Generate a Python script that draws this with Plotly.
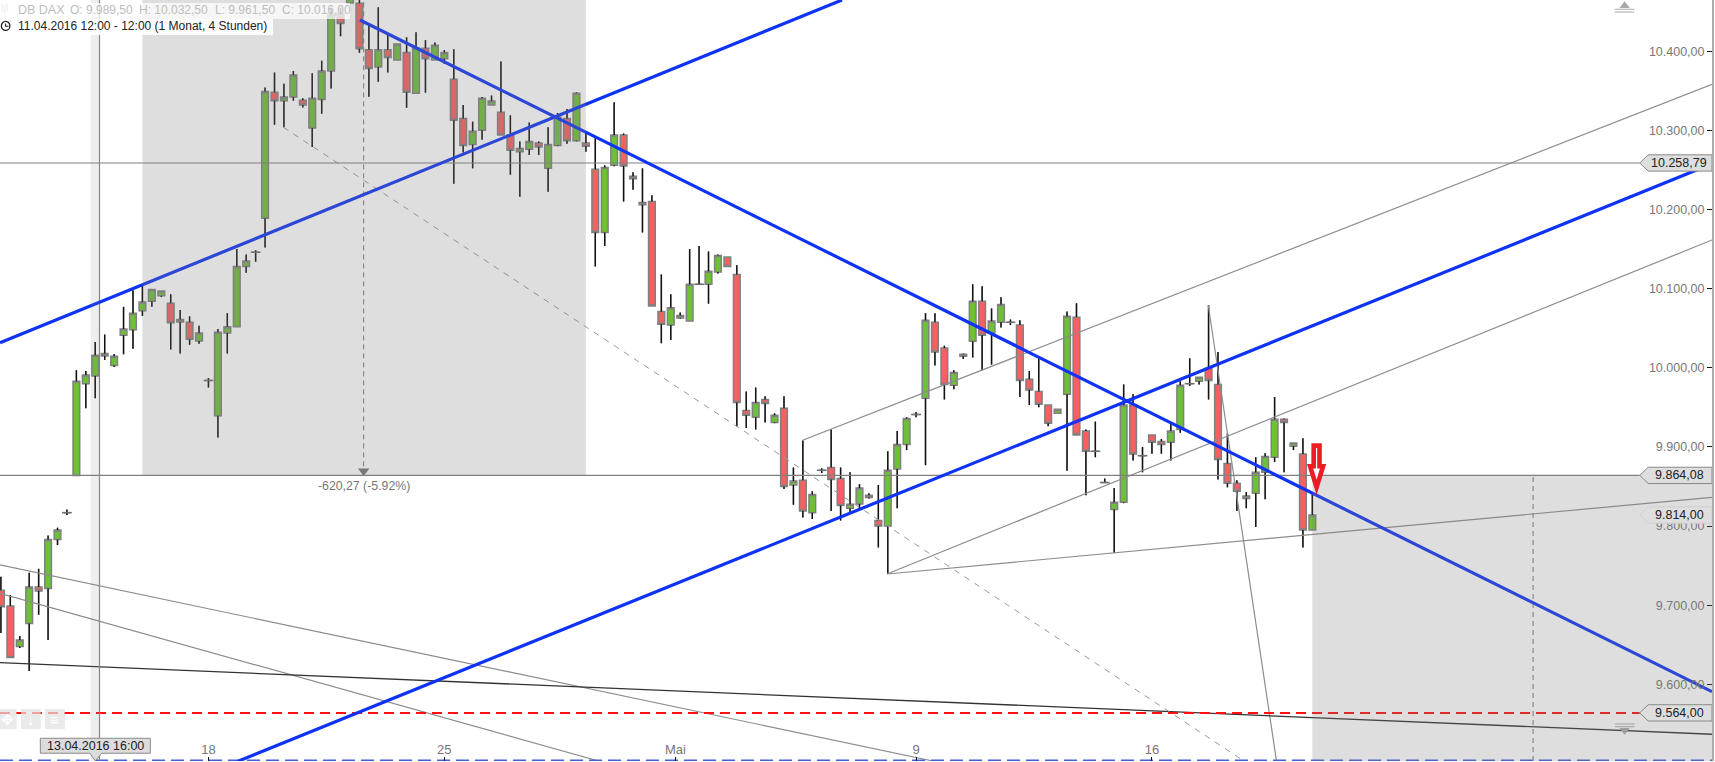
import plotly.graph_objects as go

# ---- OHLC values (DB DAX, 4-hour candles) ----
opens = [9719,9699,9648,9677,9723,9721,9783,9817,9864,9980,9989.5,10015,10003,10041,10048,10072,10084,10091,10081.5,10058,
10057.5,10034,9984,9939.5,10044,10052,10128,10146,10189,10348,10337.5,10342,10338,10303,10339,10375,10447,10461,10460.5,10402,
10380,10402,10389,10398.5,10347,10403.7,10389,10390.5,10364.5,10315,10282,10300,10332,10323,10294,10273,10276,10284,10252,10281,
10315,10287,10284,10251,10171,10256,10294,10242,10206,10210,10071,10054,10063,10059,10105.5,10105.5,10121,10140,10118,9946,
9937.5,9960,9931,9949,9852,9858,9817,9870.5,9874,9860,9822.5,9828,9836,9807,9800,9872,9903,9941,9961.5,10057.5,
10025,9978,10014.5,10033.5,10084,10044,10057.5,10057.5,10054,9985.5,9970,9953,9942.5,9966.5,10064,9920,9894.5,9855,9821,9830,
9953,9889,9915,9907,9906,9922,9980,9983,9999,9979,9879,9854,9835,9841.5,9868,9887,9935,9901,9891,9795]
highs = [9736,9713,9661,9741,9746,9788,9798,9821,9997,9996,10032.5,10042,10017.5,10077,10098,10105.5,10099,10097,10093,10073,
10065,10053,9987,10049,10069,10150,10143,10148.5,10354,10373,10359,10375,10340.5,10372,10388,10455,10455,10478,10470,10433,
10455.5,10422,10409,10417.5,10424,10414,10411,10401.5,10402.4,10332,10311,10342,10344,10387,10319,10286,10310,10286,10304,10322,
10327,10348,10297,10290,10256,10335.5,10296,10247,10252,10218,10118,10093,10070,10150,10154,10147,10143,10140,10129.5,9970,
9975,9964,9942.5,9964,9874,9908,9844,9873,9922,9874,9868,9853,9841.5,9852,9894.5,9920,9937.5,9944,10069,10069,
10028,9997,10018,10105.5,10103,10075,10089,10061,10060,9996,10014.5,9953,9947.5,10071,10081.5,9922,9932,9860,9848,9979,
9966.5,9900,9915,9910,9930,9983,10012,9988,10079,10020,9917,9858,9843,9887,9892,9963,9936,9905,9911,9841.5]
lows = [9665,9634,9646,9617,9688,9656,9776,9814,9864,9949,9961.5,10010,10001,10017,10024,10065.5,10077,10089.5,10023,10018,
10029,10030.5,9975,9912,10018,10052,10120,10134,10152,10307,10304,10337.5,10329,10279,10321,10353,10419,10461,10398,10342.5,
10361.5,10373,10389,10328.5,10347,10347.6,10389,10384,10232.6,10272,10252,10288,10332,10294,10244,10216,10269,10269,10222.5,10280,
10283,10286,10273,10128,10154,10254.6,10210,10225,10171,10078,10031,10035,10062,10059,10105.5,10081,10119,10128,9926,9924,
9922,9931,9930,9847,9827,9811,9809,9867,9819,9807,9817,9822.5,9835,9773,9739.5,9822.5,9896,9937.5,9877,10003,
9960,9973,10011,10013,9997,10004,10051,10054,9963,9953,9950,9926,9942.5,9870,9915,9839,9887,9855,9766,9829,
9883,9868,9891.5,9891.5,9883,9918,9977,9979,9960,9859,9849,9819,9822.5,9799,9834,9881,9868,9896,9773,9795]
closes = [9698,9634,9656,9723,9718,9783,9795,9817,9983,9991,10016,10018,10014.5,10049,10069,10083,10099,10097,10057,10061,
10036,10044,9984,10045,10052,10128,10135,10146,10349,10337.5,10342,10370,10332,10340.5,10375,10446,10435,10470,10403,10378,
10402,10392,10409,10348,10404,10390.5,10407.5,10398.5,10312.7,10281,10299,10340.5,10337,10294,10275,10277,10286,10279,10282,10316.5,
10287,10347,10280,10171,10253,10294,10255,10239,10209,10078,10055,10076,10066,10105.5,10105.5,10122,10142,10128,9956,9940,
9956,9955,9940,9850,9857,9819,9840,9870.5,9859,9826,9827.5,9848,9839,9800,9870.5,9903,9936,9941,10060,10020,
9979,9994,10017,10084,10041,10059,10080,10057.5,9984,9972,9954,9930,9947.5,10065,9915,9894.5,9894.5,9855,9830,9953,
9891,9889,9906,9903,9920,9978,9980,9988,9984,9884,9854,9844,9838,9868,9888,9935,9931,9905,9795,9814]

tick_values_y = [10400,10300,10200,10100,10000,9900,9800,9700,9600]
tick_labels_y = ["10.400,00","10.300,00","10.200,00","10.100,00","10.000,00","9.900,00","9.800,00","9.700,00","9.600,00"]
tick_values_x = [22,47,71.5,97,122]
tick_labels_x = ["18","25","Mai","9","16"]

# axis extents: candle number and price
x_min, x_max = -0.095, 181.36
y_min, y_max = 9503.2, 10464.7

# drawn trend lines: [candle numbers], [prices]
blue_a = ([x_min, 89.15], [10031.7, 10464.7])
blue_b = ([38.06, x_max], [10439.4, 9590.8])
blue_c = ([25.07, x_max], [9502.6, 10257.7])
grey_lines = [
    ([84.98, x_max], [9908.4, 10358.2]),
    ([93.92, x_max], [9739.5, 10161.5]),
    ([93.92, x_max], [9739.5, 9836.4]),
    ([127.97, 135.2], [10079, 9503.2]),
    ([x_min, 98.79], [9750.9, 9503.2]),
    ([x_min, 63.35], [9715.1, 9503.2]),
]
black_line = ([x_min, x_max], [9627.4, 9537])
dashed_diag = ([29.93, 131.75], [10304, 9503.2])
level_hi, level_mid, level_stop, level_last = 10258.79, 9864.08, 9564.0, 9814.0
level_bottom = 9503.8
measure_x, project_x = 38.45, 162.4
cross_x = 10.45
tip_x, box_left, box_right, box_mid = 173.7, 174.6, 181.36, 177.9
box_half = 10.3
rect1 = (15, 62)
rect2 = (139, x_max)
band = (9.5, 10.5)
handle_x = 172.1

GREY = "#8c8c8c"
BLUE = "#0f33f5"
FONT = "Liberation Sans"

fig = go.Figure()

# candle bodies (wick colour is painted over below)
fig.add_trace(go.Candlestick(
    x=list(range(len(opens))), open=opens, high=highs, low=lows, close=closes,
    increasing=dict(line=dict(color="#808080", width=1.5), fillcolor="#6cc137"),
    decreasing=dict(line=dict(color="#808080", width=1.5), fillcolor="#f66060"),
    whiskerwidth=0, hoverinfo="skip"))

# black wicks, split at the bodies
wx, wy = [], []
doji_x, doji_y = [], []
for i, (o, h, l, c) in enumerate(zip(opens, highs, lows, closes)):
    top, bot = max(o, c), min(o, c)
    if h > top:
        wx += [i, i, None]; wy += [top, h, None]
    if l < bot:
        wx += [i, i, None]; wy += [bot, l, None]
    if o == c:
        doji_x.append(i); doji_y.append(o)
fig.add_trace(go.Scatter(x=wx, y=wy, mode="lines", line=dict(color="#111111", width=1.4), hoverinfo="skip"))
fig.add_trace(go.Scatter(x=doji_x, y=doji_y, mode="markers", hoverinfo="skip",
                         marker=dict(symbol="line-ew", size=7, line=dict(width=1.5, color="#707070"))))

def line(xs, ys, color, width, dash=None):
    fig.add_trace(go.Scatter(x=xs, y=ys, mode="lines", hoverinfo="skip",
                             line=dict(color=color, width=width, dash=dash)))

for xs, ys in grey_lines:
    line(xs, ys, GREY, 1.2)
line(black_line[0], black_line[1], "#333333", 1.3)
line(dashed_diag[0], dashed_diag[1], "#999999", 1, "6px,6px")
line([x_min, tip_x], [level_hi, level_hi], "#808080", 1.1)
line([x_min, tip_x], [level_mid, level_mid], "#808080", 1.1)
line([x_min, tip_x], [level_stop, level_stop], "#ff1010", 2, "10px,6px")
line([x_min, x_max], [level_bottom, level_bottom], "#3f60d8", 2, "13px,6px")
line([measure_x, measure_x], [level_mid, y_max], "#777777", 1, "5px,4px")
line([project_x, project_x], [y_min, level_mid], "#777777", 1, "5px,4px")
line([cross_x, cross_x], [y_min, y_max], "#888888", 1.2)
line(blue_a[0], blue_a[1], BLUE, 3.2)
line(blue_b[0], blue_b[1], BLUE, 3.2)
line(blue_c[0], blue_c[1], BLUE, 3.2)

# small markers: measuring arrow head and scale handles
fig.add_trace(go.Scatter(x=[measure_x], y=[9869.6], mode="markers", hoverinfo="skip",
                         marker=dict(symbol="triangle-down", size=10, color="#777777")))
fig.add_trace(go.Scatter(x=[handle_x], y=[10457.5], mode="markers", hoverinfo="skip",
                         marker=dict(symbol="triangle-up", size=9, color="#aaaaaa")))
fig.add_trace(go.Scatter(x=[handle_x], y=[9542], mode="markers", hoverinfo="skip",
                         marker=dict(symbol="triangle-down", size=9, color="#aaaaaa")))
fig.add_trace(go.Scatter(x=[handle_x]*4, y=[10453, 10449.5, 9550, 9546.5], mode="markers", hoverinfo="skip",
                         marker=dict(symbol="line-ew", size=14, line=dict(width=1, color="#aaaaaa"))))
# filter icon top left
fig.add_trace(go.Scatter(x=[0.15,0.15,None,0.4,0.4,None,0.65,0.65], y=[10450,10460,None,10448,10458,None,10450,10460],
                         mode="lines", line=dict(color="#cccccc", width=1.5), hoverinfo="skip"))

def callout(p, fill, border):
    h = box_half
    return dict(type="path", layer="above", fillcolor=fill, line=dict(color=border, width=1),
                path=f"M {tip_x},{p} L {box_left},{p+h} L {box_right},{p+h} L {box_right},{p-h} L {box_left},{p-h} Z")

def rect(x0, x1, y0, y1, fill):
    return dict(type="rect", layer="above", x0=x0, x1=x1, y0=y0, y1=y1, fillcolor=fill, line=dict(width=0))

shapes = [
    rect(rect1[0], rect1[1], level_mid, y_max, "rgba(127,127,127,0.26)"),
    rect(rect2[0], rect2[1], y_min, level_mid, "rgba(127,127,127,0.26)"),
    rect(band[0], band[1], y_min, y_max, "rgba(127,127,127,0.13)"),
    rect(x_min, 37.0, 10440.7, 10460.9, "rgba(255,255,255,0.72)"),
    rect(x_min, 28.84, 10420.5, 10440.7, "rgba(255,255,255,0.9)"),
    rect(x_min, 1.67, 9543.6, 9568.9, "rgba(225,225,225,0.7)"),
    rect(2.13, 4.22, 9543.6, 9568.9, "rgba(225,225,225,0.7)"),
    rect(4.67, 6.79, 9543.6, 9568.9, "rgba(225,225,225,0.7)"),
    callout(level_hi, "#dedede", "#8a8a8a"),
    callout(level_mid, "#dedede", "#8a8a8a"),
    callout(level_last, "#dedede", "#cfcfcf"),
    callout(level_stop, "#dedede", "#8a8a8a"),
    # date box on the crosshair
    dict(type="path", layer="above", fillcolor="#dcdcdc", line=dict(color="#8a8a8a", width=1),
         path="M 4.18,9531.9 L 15.84,9531.9 L 15.84,9513 L 10.7,9513 L 10.0,9503.4 L 9.44,9513 L 4.18,9513 Z"),
    # red arrow
    dict(type="path", layer="above", fillcolor="white", line=dict(color="#ed1c24", width=4.6),
         path="M 139.14,9901.7 L 139.76,9901.7 L 139.76,9875.7 L 140.14,9875.7 L 139.45,9849 L 138.76,9875.7 L 139.14,9875.7 Z"),
    # clock icon
    dict(type="circle", layer="above", x0=0.05, x1=0.95, y0=10426.2, y1=10437.6, line=dict(color="#222222", width=1.3)),
    dict(type="path", layer="above", line=dict(color="#222222", width=1.1),
         path="M 0.5,10435 L 0.5,10431.5 L 0.8,10431.5"),
]

def note(x, y, text, color="#222222", size=12.5, anchor="center"):
    return dict(x=x, y=y, text=text, showarrow=False, xanchor=anchor, yanchor="middle",
                font=dict(family=FONT, size=size, color=color))

annotations = [
    note(1.57, 10452, "DB DAX", "#bdbdbd", 12.5, "left"),
    note(7.08, 10452, "O: 9.989,50", "#bdbdbd", 12, "left"),
    note(14.39, 10452, "H: 10.032,50", "#bdbdbd", 12, "left"),
    note(22.5, 10452, "L: 9.961,50", "#bdbdbd", 12, "left"),
    note(29.58, 10452, "C: 10.016,00", "#bdbdbd", 12, "left"),
    note(1.57, 10431.9, "11.04.2016 12:00 - 12:00 (1 Monat, 4 Stunden)", "#222222", 12, "left"),
    note(measure_x, 9850.7, "-620,27 (-5.92%)", "#777777", 12.3),
    note(box_mid, level_hi, "10.258,79"),
    note(box_mid, level_mid, "9.864,08"),
    note(box_mid, level_last, "9.814,00"),
    note(box_mid, level_stop, "9.564,00"),
    note(10.0, 9522.4, "13.04.2016 16:00"),
    note(0.75, 9556, "✥", "#ffffff", 15),
    note(3.17, 9556, "↓", "#ffffff", 15),
    note(5.73, 9556, "≡", "#ffffff", 15),
]

fig.update_layout(
    width=1715, height=762,
    margin=dict(l=0, r=3, t=0, b=1, pad=0),
    paper_bgcolor="white", plot_bgcolor="white",
    showlegend=False, hovermode=False, dragmode=False,
    boxgap=0.29, boxgroupgap=0,
    shapes=shapes, annotations=annotations,
    font=dict(family=FONT, size=12),
    xaxis=dict(range=[x_min, x_max], rangeslider=dict(visible=False), showgrid=False, zeroline=False,
               tickmode="array", tickvals=tick_values_x, ticktext=tick_labels_x,
               ticks="inside", ticklen=4, tickwidth=1, tickcolor="#111111",
               ticklabelposition="inside", tickfont=dict(family=FONT, size=13, color="#777777"),
               showline=False),
    yaxis=dict(range=[y_min, y_max], side="right", showgrid=False, zeroline=False,
               tickmode="array", tickvals=tick_values_y, ticktext=tick_labels_y,
               ticks="inside", ticklen=5, tickwidth=1, tickcolor="#111111",
               ticklabelposition="inside", ticklabelstandoff=2,
               tickfont=dict(family=FONT, size=12.5, color="#777777"),
               showline=True, linecolor="#aaaaaa", linewidth=2),
)

fig.write_html("out.html", config=dict(displayModeBar=False),
               post_script="document.body.style.margin='0';document.documentElement.style.overflow='hidden';")
